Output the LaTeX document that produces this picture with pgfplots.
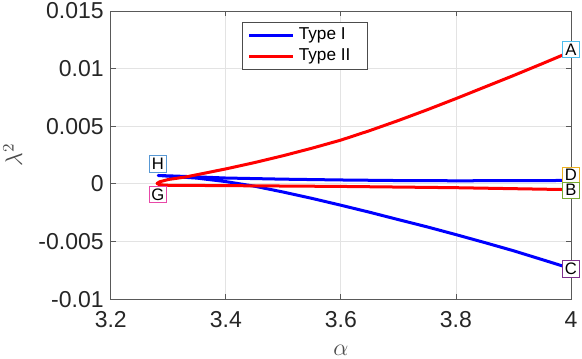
\documentclass[border=0pt]{standalone}
\usepackage{fontspec}
\setmainfont{Liberation Sans}
\usepackage{pgfplots}
\pgfplotsset{compat=1.18}
\definecolor{labA}{RGB}{77,190,238}
\definecolor{labB}{RGB}{119,172,48}
\definecolor{labC}{RGB}{126,47,142}
\definecolor{labD}{RGB}{237,177,32}
\definecolor{labG}{RGB}{232,72,168}
\definecolor{labH}{RGB}{88,152,212}
\begin{document}
\begin{tikzpicture}
\begin{axis}[
  scale only axis,
  width=230pt, height=144pt,
  xmin=3.2, xmax=4, ymin=-0.01, ymax=0.015,
  xtick={3.2,3.4,3.6,3.8,4},
  xticklabels={3.2,3.4,3.6,3.8,4},
  ytick={-0.01,-0.005,0,0.005,0.01,0.015},
  yticklabels={-0.01,-0.005,0,0.005,0.01,0.015},
  scaled y ticks=false,
  tick label style={font=\fontsize{11.5}{13}\selectfont, text=black!85},
  xticklabel style={yshift=-2.5pt},
  xlabel={$\alpha$}, ylabel={$\lambda^2$},
  label style={font=\fontsize{11.5}{13}\selectfont, text=black!70},
  xlabel style={at={(axis description cs:0.5,-0.177)}, anchor=center},
  ylabel style={at={(axis description cs:-0.213,0.5)}, anchor=center},
  grid=major,
  grid style={black!11, line width=0.4pt},
  axis line style={black!65, line width=0.4pt},
  tick style={black!65, line width=0.4pt},
  major tick length=2.5pt,
  clip=false,
  legend style={at={(0.286,0.963)}, anchor=north west,
    font=\fontsize{8.6}{10}\selectfont, draw=black!70, line width=0.4pt,
    inner xsep=2.5pt, inner ysep=1pt, row sep=-1pt},
  legend cell align=left,
  legend image code/.code={\draw[#1, line width=1.5pt] (0pt,0pt) -- (22pt,0pt);},
]
% Type I: lower branch (C -> H) then upper branch (H -> D)
\addplot[blue, line width=1.5pt, line join=round] coordinates {
  (4.0,-0.00735) (3.95,-0.00657) (3.9,-0.0058) (3.85,-0.00509) (3.8,-0.0044)
  (3.75,-0.00373) (3.7,-0.0031) (3.65,-0.00246) (3.6,-0.00185)
  (3.55,-0.00126) (3.5,-0.00071) (3.45,-0.00020) (3.4,0.00020)
  (3.35,0.00050) (3.3,0.00067) (3.2825,0.00073)
  (3.3,0.00070) (3.35,0.00061) (3.4,0.00051) (3.5,0.00041)
  (3.6,0.00034) (3.7,0.00029) (3.8,0.00027) (3.9,0.00028) (4.0,0.00030)
};
\addlegendentry{Type I\hspace*{4pt}}
% Type II: lower branch (B -> G) then upper branch (G -> A)
\addplot[red, line width=1.5pt, line join=round] coordinates {
  (4.0,-0.0005) (3.8,-0.00033) (3.6,-0.00022) (3.4,-0.00015) (3.3,-0.00012)
  (3.285,-0.00008) (3.2805,0.00004)
  (3.285,0.00018) (3.3,0.00038) (3.33,0.00060) (3.35,0.0008) (3.4,0.0013)
  (3.45,0.00185) (3.5,0.00245) (3.55,0.0031) (3.6,0.0038) (3.65,0.00462)
  (3.7,0.0055) (3.75,0.00643) (3.8,0.0074) (3.85,0.0084) (3.9,0.0094)
  (3.95,0.01043) (4.0,0.01148)
};
\addlegendentry{Type II\hspace*{4pt}}
\tikzset{lab/.style={draw=#1, fill=white, line width=0.5pt, inner sep=1pt,
  minimum width=8.6pt, minimum height=8.2pt, font=\fontsize{8.3}{9}\selectfont}}
\node[lab=labA] at (axis cs:4,0.01165) {A};
\node[lab=labD] at (axis cs:4,0.00075) {D};
\node[lab=labB] at (axis cs:4,-0.00055) {B};
\node[lab=labC] at (axis cs:4,-0.0074) {C};
\node[lab=labH] at (axis cs:3.2817,0.00171) {H};
\node[lab=labG] at (axis cs:3.2817,-0.00093) {G};
\coordinate (sw) at (rel axis cs:0,0);
\coordinate (ne) at (rel axis cs:1,1);
\end{axis}
\pgfresetboundingbox
\path[use as bounding box] ([shift={(-55.35pt,-29.5pt)}]sw) rectangle ([shift={(5.5pt,5.5pt)}]ne);
\end{tikzpicture}
\end{document}
